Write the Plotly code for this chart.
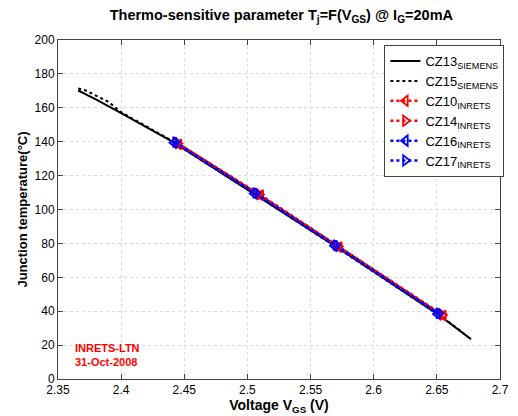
import plotly.graph_objects as go

# CZ13 (SIEMENS) solid black line
cz13_v = [2.366, 2.380, 2.400, 2.442, 2.505, 2.569, 2.650, 2.677]
cz13_t = [170.2, 165.0, 156.8, 139.4, 109.4, 78.7, 38.6, 23.5]
# CZ15 (SIEMENS) dotted black line
cz15_v = [2.366, 2.372, 2.390, 2.400, 2.442, 2.505, 2.569, 2.650, 2.672]
cz15_t = [171.4, 170.2, 163.5, 157.4, 139.8, 109.8, 79.0, 39.0, 26.5]

# INRETS measurements
cz10_v = [2.4458, 2.5106, 2.5728, 2.6552]
cz10_t = [138.4, 108.4, 77.8, 37.4]
cz14_v = [2.4450, 2.5095, 2.5720, 2.6545]
cz14_t = [139.0, 108.8, 78.2, 37.8]
cz16_v = [2.4419, 2.5054, 2.5689, 2.6505]
cz16_t = [139.4, 109.4, 78.6, 38.4]
cz17_v = [2.4430, 2.5065, 2.5700, 2.6515]
cz17_t = [139.8, 109.8, 79.0, 38.8]

x_ticks = [2.35, 2.4, 2.45, 2.5, 2.55, 2.6, 2.65, 2.7]
x_labels = ["2.35", "2.4", "2.45", "2.5", "2.55", "2.6", "2.65", "2.7"]
y_ticks = list(range(0, 201, 20))

RED = "rgb(255,0,0)"
BLUE = "rgb(0,0,255)"
FONT = "Liberation Sans, Arial, sans-serif"

fig = go.Figure()
fig.add_trace(go.Scatter(x=cz13_v, y=cz13_t, mode="lines",
                         line=dict(color="black", width=2),
                         name="CZ13<sub>SIEMENS</sub>"))
fig.add_trace(go.Scatter(x=cz15_v, y=cz15_t, mode="lines",
                         line=dict(color="black", width=2, dash="dot"),
                         name="CZ15<sub>SIEMENS</sub>"))
series = [
    (cz10_v, cz10_t, RED, "triangle-left-open", "CZ10<sub>INRETS</sub>"),
    (cz14_v, cz14_t, RED, "triangle-right-open", "CZ14<sub>INRETS</sub>"),
    (cz16_v, cz16_t, BLUE, "triangle-left-open", "CZ16<sub>INRETS</sub>"),
    (cz17_v, cz17_t, BLUE, "triangle-right-open", "CZ17<sub>INRETS</sub>"),
]
for xv, yv, c, sym, nm in series:
    fig.add_trace(go.Scatter(x=xv, y=yv, mode="lines+markers",
                             line=dict(color=c, width=2.5, dash="dot"),
                             marker=dict(symbol=sym, size=9, color=c,
                                         line=dict(color=c, width=1.8)),
                             name=nm))

axis_common = dict(showline=True, linecolor="#444", linewidth=1, mirror="ticks",
                   ticks="inside", ticklen=5, tickcolor="#444",
                   showgrid=True, gridcolor="#dcdcdc", griddash="dot", gridwidth=1,
                   zeroline=False, tickfont=dict(family=FONT, size=12, color="black"))

fig.update_xaxes(range=[2.35, 2.7], tickvals=x_ticks, ticktext=x_labels,
                 title=dict(text="<b>Voltage V<sub>GS</sub> (V)</b>",
                            font=dict(family=FONT, size=14, color="black"), standoff=0),
                 **axis_common)
fig.update_yaxes(range=[0, 200], tickvals=y_ticks,
                 title=dict(text="<b>Junction temperature(°C)</b>",
                            font=dict(family=FONT, size=13, color="black"), standoff=4),
                 **axis_common)

fig.add_annotation(x=0.035, y=0.115, xref="paper", yref="paper", xanchor="left", yanchor="top",
                   text="<b>INRETS-LTN<br>31-Oct-2008</b>", showarrow=False, align="left",
                   font=dict(family=FONT, size=11, color=RED))

# The page body has an 8px margin; figure size/margins compensate so the
# plot area lands where the reference has it.
fig.update_layout(
    width=510, height=408,
    margin=dict(l=50, r=9, t=32, b=36),
    paper_bgcolor="white", plot_bgcolor="white",
    title=dict(text="<b>Thermo-sensitive parameter T<sub>j</sub>=F(V<sub>GS</sub>) @ I<sub>G</sub>=20mA</b>",
               x=0.536, xanchor="center", y=0.995, yanchor="top",
               font=dict(family=FONT, size=14.5, color="black")),
    legend=dict(x=1.01, y=0.985, xanchor="right", yanchor="top",
                bgcolor="white", bordercolor="#444", borderwidth=1,
                font=dict(family=FONT, size=13, color="black"),
                itemwidth=30, tracegroupgap=0),
    showlegend=True,
)

fig.write_html("out.html")
